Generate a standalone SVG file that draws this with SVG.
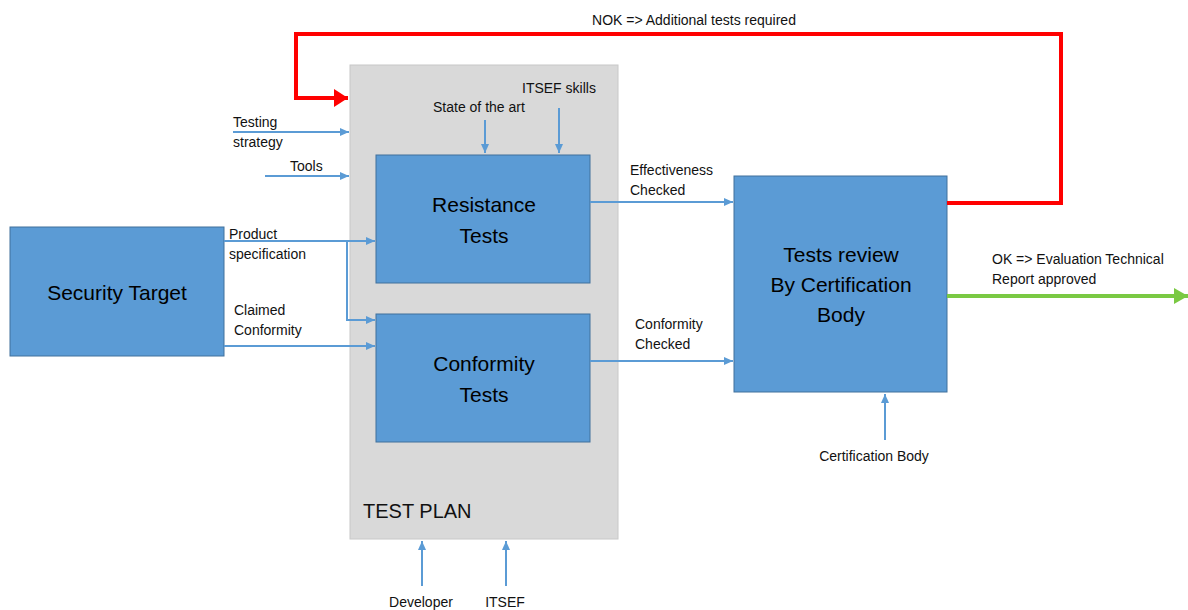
<svg xmlns="http://www.w3.org/2000/svg" width="1188" height="610" viewBox="0 0 1188 610">
<style>
.box{fill:#5b9bd5;stroke:#41719c;stroke-width:1}
.big{font-family:"Liberation Sans",Arial,sans-serif;font-size:21px;fill:#000;text-anchor:middle}
.lbl{font-family:"Liberation Sans",Arial,sans-serif;font-size:14px;fill:#111}
.bl{stroke:#5b9bd5;stroke-width:2;fill:none}
</style>
<defs>
<marker id="ab" markerUnits="userSpaceOnUse" markerWidth="10" markerHeight="10" refX="9" refY="5" orient="auto"><path d="M0,1 L9,5 L0,9 Z" fill="#5b9bd5"/></marker>
<marker id="ar" markerUnits="userSpaceOnUse" markerWidth="16" markerHeight="18" refX="14" refY="9" orient="auto"><path d="M0,0 L14,9 L0,18 Z" fill="#ff0000"/></marker>
<marker id="ag" markerUnits="userSpaceOnUse" markerWidth="16" markerHeight="18" refX="14" refY="9" orient="auto"><path d="M0,1 L14,9 L0,17 Z" fill="#7ac943"/></marker>
</defs>
<rect width="1188" height="610" fill="#fff"/>
<g id="testplan">
<rect x="350" y="65" width="268" height="474" fill="#d9d9d9" stroke="#c8c8c8" stroke-width="1"/>
<text x="363" y="518" font-family="'Liberation Sans',Arial,sans-serif" font-size="20" fill="#111">TEST PLAN</text>
</g>
<g id="security-target">
<rect class="box" x="10" y="227" width="214" height="129"/>
<text class="big" x="117" y="300">Security Target</text>
</g>
<g id="resistance-tests">
<rect class="box" x="376" y="155" width="214" height="128"/>
<text class="big" x="484" y="212">Resistance</text>
<text class="big" x="484" y="243">Tests</text>
</g>
<g id="conformity-tests">
<rect class="box" x="376" y="314" width="214" height="128"/>
<text class="big" x="484" y="371">Conformity</text>
<text class="big" x="484" y="402">Tests</text>
</g>
<g id="tests-review">
<rect class="box" x="734" y="176" width="213" height="216"/>
<text class="big" x="841" y="262">Tests review</text>
<text class="big" x="841" y="292">By Certification</text>
<text class="big" x="841" y="322">Body</text>
</g>
<g id="connectors">
<path d="M947,203 H1061 V34 H296 V98 H348" fill="none" stroke="#ff0000" stroke-width="4" marker-end="url(#ar)"/>
<path d="M947,296 H1188" fill="none" stroke="#7ac943" stroke-width="4" marker-end="url(#ag)"/>
<path class="bl" d="M233,132 H349" marker-end="url(#ab)"/>
<path class="bl" d="M265,176 H349" marker-end="url(#ab)"/>
<path class="bl" d="M485,120 V153" marker-end="url(#ab)"/>
<path class="bl" d="M559,108 V153" marker-end="url(#ab)"/>
<path class="bl" d="M224,241 H375" marker-end="url(#ab)"/>
<path class="bl" d="M347,241 V320 H375" marker-end="url(#ab)"/>
<path class="bl" d="M224,346 H375" marker-end="url(#ab)"/>
<path class="bl" d="M590,202 H733" marker-end="url(#ab)"/>
<path class="bl" d="M590,361 H733" marker-end="url(#ab)"/>
<path class="bl" d="M885,440 V394" marker-end="url(#ab)"/>
<path class="bl" d="M422,586 V541" marker-end="url(#ab)"/>
<path class="bl" d="M506,586 V541" marker-end="url(#ab)"/>
</g>
<g id="labels">
<text class="lbl" x="694" y="25" text-anchor="middle">NOK =&gt; Additional tests required</text>
<text class="lbl" x="233" y="127">Testing</text>
<text class="lbl" x="233" y="147">strategy</text>
<text class="lbl" x="290" y="171">Tools</text>
<text class="lbl" x="433" y="112">State of the art</text>
<text class="lbl" x="522" y="93">ITSEF skills</text>
<text class="lbl" x="229" y="239">Product</text>
<text class="lbl" x="229" y="259">specification</text>
<text class="lbl" x="234" y="315">Claimed</text>
<text class="lbl" x="234" y="335">Conformity</text>
<text class="lbl" x="630" y="175">Effectiveness</text>
<text class="lbl" x="630" y="195">Checked</text>
<text class="lbl" x="635" y="329">Conformity</text>
<text class="lbl" x="635" y="349">Checked</text>
<text class="lbl" x="992" y="264">OK =&gt; Evaluation Technical</text>
<text class="lbl" x="992" y="284">Report  approved</text>
<text class="lbl" x="874" y="461" text-anchor="middle">Certification Body</text>
<text class="lbl" x="421" y="607" text-anchor="middle">Developer</text>
<text class="lbl" x="505" y="607" text-anchor="middle">ITSEF</text>
</g>
</svg>
